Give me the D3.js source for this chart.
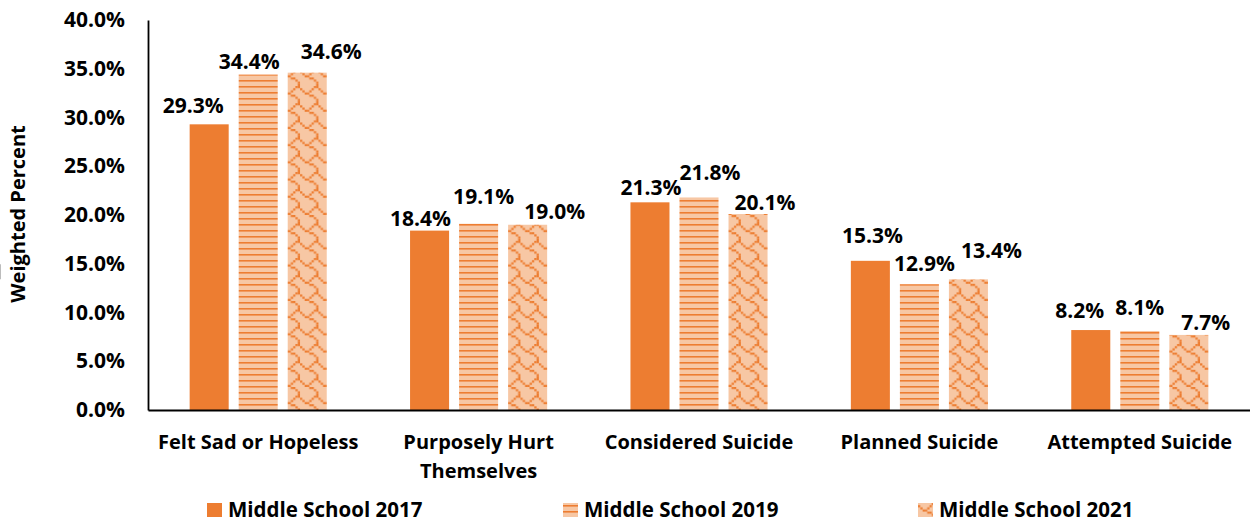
<!DOCTYPE html>
<html>
<head>
<meta charset="utf-8">
<script src="https://cdn.jsdelivr.net/npm/d3@7"></script>
<style>
  body { margin: 0; background: #fff; }
  text { font-family: "Open Sans", sans-serif; font-weight: bold; fill: #000; }
</style>
</head>
<body>
<div id="chart"></div>
<script>
const categories = ["Felt Sad or Hopeless", "Purposely Hurt Themselves", "Considered Suicide", "Planned Suicide", "Attempted Suicide"];
const seriesNames = ["Middle School 2017", "Middle School 2019", "Middle School 2021"];
const values2017 = [29.3, 18.4, 21.3, 15.3, 8.2];
const values2019 = [34.4, 19.1, 21.8, 12.9, 8.1];
const values2021 = [34.6, 19.0, 20.1, 13.4, 7.7];
const yTicks = [0, 5, 10, 15, 20, 25, 30, 35, 40];

// manual label nudges (px) like the hand-placed Excel labels: [dx from bar centre, dy from bar top]
const labelNudge = [
  [[-16, -19], [-9, -12], [1, -15], [2, -25], [-11, -20]],
  [[-9, -13], [5, -27], [11, -25], [5, -21], [0, -24]],
  [[24, -21], [27, -13], [17, -12], [23, -29], [17, -12]]
];

const seriesValues = [values2017, values2019, values2021];
const data = categories.map((c, i) => ({
  category: c,
  vals: seriesNames.map((s, j) => ({ series: s, si: j, ci: i, value: seriesValues[j][i] }))
}));

const width = 1250, height = 522;
const margin = { top: 20, right: 0, bottom: 112, left: 148 };
const orange = "#ED7D31";
const peach = "#F7C7A4";

const svg = d3.select("#chart").append("svg")
  .attr("width", width)
  .attr("height", height);

// patterns
const defs = svg.append("defs");
const stripe = defs.append("pattern")
  .attr("id", "stripes")
  .attr("patternUnits", "userSpaceOnUse")
  .attr("width", 6).attr("height", 6);
stripe.append("rect").attr("width", 6).attr("height", 6).attr("fill", peach);
stripe.append("rect").attr("y", 2).attr("width", 6).attr("height", 1.6).attr("fill", orange);

// shingle bitmap, 8x8
const shingleRows = [0x03, 0x84, 0x48, 0x30, 0x0C, 0x02, 0x01, 0x01];
const cw = 2.3, ch = 2.15;
const shingle = defs.append("pattern")
  .attr("id", "shingle")
  .attr("patternUnits", "userSpaceOnUse")
  .attr("width", 8 * cw).attr("height", 8 * ch);
shingle.append("rect").attr("width", 8 * cw).attr("height", 8 * ch).attr("fill", peach);
shingleRows.forEach((bits, r) => {
  for (let c = 0; c < 8; c++) {
    if (bits & (0x80 >> c)) {
      shingle.append("rect")
        .attr("x", c * cw).attr("y", r * ch)
        .attr("width", cw).attr("height", ch)
        .attr("fill", orange);
    }
  }
});

const fills = [orange, "url(#stripes)", "url(#shingle)"];

const x0 = d3.scaleBand()
  .domain(categories)
  .range([margin.left, width - margin.right])
  .paddingInner(0.378)
  .paddingOuter(0.189);

const x1 = d3.scaleBand()
  .domain(seriesNames)
  .range([0, x0.bandwidth()])
  .paddingInner(0.204);

const y = d3.scaleLinear()
  .domain([0, 40])
  .range([height - margin.bottom, margin.top]);

// Bars
const groups = svg.append("g").selectAll("g")
  .data(data)
  .enter()
  .append("g")
  .attr("transform", d => `translate(${x0(d.category)},0)`);

groups.selectAll("rect")
  .data(d => d.vals)
  .enter()
  .append("rect")
  .attr("x", d => x1(d.series))
  .attr("y", d => y(d.value))
  .attr("width", x1.bandwidth())
  .attr("height", d => y(0) - y(d.value))
  .attr("fill", d => fills[d.si]);

// Data labels
groups.selectAll("text.val")
  .data(d => d.vals)
  .enter()
  .append("text")
  .attr("class", "val")
  .attr("x", d => x1(d.series) + x1.bandwidth() / 2 + labelNudge[d.si][d.ci][0])
  .attr("y", d => y(d.value) + labelNudge[d.si][d.ci][1])
  .attr("dy", "0.36em")
  .attr("text-anchor", "middle")
  .style("font-size", "21px")
  .text(d => d.value.toFixed(1) + "%");

// leader line for the 13.4% label
const lead = data[3].vals[2];
const lx = x0(lead.category) + x1(lead.series) + x1.bandwidth() / 2;
svg.append("line")
  .attr("x1", lx - 2).attr("y1", y(lead.value))
  .attr("x2", lx + labelNudge[2][3][0]).attr("y2", y(lead.value) + labelNudge[2][3][1] + 14)
  .attr("stroke", "#A6A6A6")
  .attr("stroke-width", 1.5);

// Y axis
const yAxis = svg.append("g")
  .attr("transform", `translate(${margin.left},0)`)
  .call(d3.axisLeft(y).tickValues(yTicks).tickSize(0).tickPadding(23).tickFormat(d => d.toFixed(1) + "%"));
yAxis.select(".domain").attr("stroke", "#000").attr("stroke-width", 1.8);
yAxis.selectAll("text").style("font-size", "21px").attr("font-family", null);

// X axis
const xAxis = svg.append("g")
  .attr("transform", `translate(0,${y(0)})`)
  .call(d3.axisBottom(x0).tickSize(0).tickPadding(0).tickFormat(""));
xAxis.select(".domain").attr("stroke", "#000").attr("stroke-width", 1.8);

// category labels, wrapped like the original
const catLines = {
  "Purposely Hurt Themselves": ["Purposely Hurt", "Themselves"]
};
categories.forEach(c => {
  const lines = catLines[c] || [c];
  const t = svg.append("text")
    .attr("x", x0(c) + x0.bandwidth() / 2)
    .attr("y", 442)
    .attr("text-anchor", "middle")
    .style("font-size", "20px");
  lines.forEach((l, i) => {
    t.append("tspan")
      .attr("x", x0(c) + x0.bandwidth() / 2)
      .attr("dy", i === 0 ? "0.36em" : "29px")
      .text(l);
  });
});

// Y axis title
svg.append("text")
  .attr("transform", "rotate(-90)")
  .attr("x", -214)
  .attr("y", 18)
  .attr("dy", "0.36em")
  .attr("text-anchor", "middle")
  .style("font-size", "20px")
  .text("Weighted Percent");

// Legend
const legendX = [207, 563, 918];
const legend = svg.append("g");
seriesNames.forEach((s, i) => {
  const g = legend.append("g").attr("transform", `translate(${legendX[i]},503)`);
  g.append("rect")
    .attr("width", 15).attr("height", 14)
    .attr("fill", fills[i]);
  g.append("text")
    .attr("x", 21)
    .attr("y", 7)
    .attr("dy", "0.36em")
    .style("font-size", "20.5px")
    .text(s);
});
</script>
</body>
</html>
